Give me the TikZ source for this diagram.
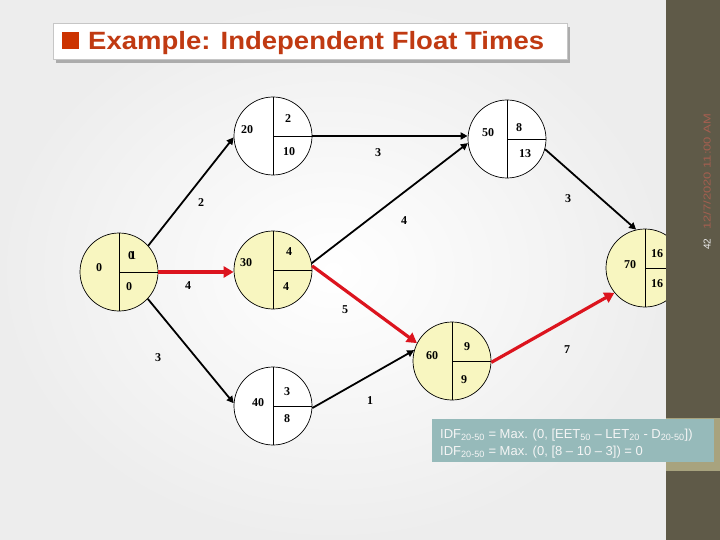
\documentclass[tikz,border=0pt]{standalone}
\usepackage{fontspec}
\setmainfont{Liberation Serif}
\newfontfamily\arialf{Liberation Sans}
\usetikzlibrary{arrows.meta}
\definecolor{evyel}{RGB}{248,246,192}
\definecolor{evred}{RGB}{220,20,30}
\definecolor{sideb}{RGB}{95,90,72}
\definecolor{khakib}{RGB}{168,163,126}
\definecolor{tealbox}{RGB}{150,186,186}
\definecolor{titlec}{RGB}{192,58,18}
\definecolor{bulletc}{RGB}{204,51,0}
\definecolor{datec}{RGB}{165,95,80}
\begin{document}
\begin{tikzpicture}[x=1pt,y=-1pt,
  ev/.style={circle, draw, line width=0.7pt, minimum size=78pt, inner sep=0pt},
  num/.style={font=\bfseries\fontsize{12}{12}\selectfont, inner sep=0pt},
  arr/.style={line width=1.8pt, -{Triangle[length=7pt,width=7pt]}},
  crit/.style={line width=3.2pt, color=evred, -{Triangle[length=10pt,width=11pt]}},
  div/.style={line width=0.8pt}
]
\useasboundingbox (0,0) rectangle (720,540);
% background
\shade[inner color=white, outer color=gray!14] (0,0) rectangle (666,540);

% title box
\fill[gray!65] (56,27) rectangle (570,63);
\filldraw[fill=white, draw=gray!45, line width=1pt] (53,24) rectangle (567,60);
\fill[bulletc] (62,32) rectangle (79,49);
\node[anchor=base west, inner sep=0pt, text=titlec, font=\arialf\bfseries\fontsize{25}{25}\selectfont] (title) at (88,50) {\scalebox{1.1}[1]{Example: Independent Float Times}};

% event nodes
\node[ev, fill=evyel] (n10) at (119,272) {};
\node[ev, fill=white] (n20) at (273,136) {};
\node[ev, fill=evyel] (n30) at (273,270) {};
\node[ev, fill=white] (n40) at (273,406) {};
\node[ev, fill=white] (n50) at (507,139) {};
\node[ev, fill=evyel] (n60) at (452,361) {};
\node[ev, fill=evyel] (n70) at (645,268) {};

\foreach \n in {n10,n20,n30,n40,n50,n60,n70}{
  \draw[div] (\n.north) -- (\n.south);
  \draw[div] (\n.center) -- (\n.east);
}

% node texts
\node[num] (t10a) at (99,268) {0};
\node[num] (t10b) at (131,256) {0};
\node[num] (t10c) at (133,256) {1};
\node[num] (t10d) at (129,287) {0};

\node[num] (t20a) at (247,130) {20};
\node[num] (t20b) at (288,119) {2};
\node[num] (t20c) at (289,152) {10};

\node[num] (t30a) at (246,263) {30};
\node[num] (t30b) at (289,252) {4};
\node[num] (t30c) at (286,287) {4};

\node[num] (t40a) at (258,403) {40};
\node[num] (t40b) at (287,392) {3};
\node[num] (t40c) at (287,419) {8};

\node[num] (t50a) at (488,133) {50};
\node[num] (t50b) at (519,128) {8};
\node[num] (t50c) at (525,154) {13};

\node[num] (t60a) at (432,356) {60};
\node[num] (t60b) at (467,347) {9};
\node[num] (t60c) at (464,380) {9};

\node[num] (t70a) at (630,265) {70};
\node[num] (t70b) at (657,254) {16};
\node[num] (t70c) at (657,284) {16};

% connectors
\draw[arr] (n10.42) -- (n20.182);
\draw[arr] (n10.-43) -- (n40.176);
\draw[crit] (n10.east) -- (n10.east -| n30.west);
\draw[arr] (n20.east) -- (n20.east -| n50.west);
\draw[arr] (n30.10) -- (n50.186);
\draw[crit] (n30.6) -- (n60.153);
\draw[arr] (n40.-3) -- (n60.164);
\draw[arr] (n50.-15) -- (n70.103);
\draw[crit] (n60.-2) -- (n70.219);

% connector labels
\node[num] (l1) at (201,203) {2};
\node[num] (l2) at (158,358) {3};
\node[num] (l3) at (188,286) {4};
\node[num] (l4) at (378,153) {3};
\node[num] (l5) at (404,221) {4};
\node[num] (l6) at (345,310) {5};
\node[num] (l7) at (568,199) {3};
\node[num] (l8) at (567,350) {7};
\node[num] (l9) at (370,401) {1};

% side bar
\fill[sideb] (666,0) rectangle (720,540);
\fill[khakib] (666,418) rectangle (720,471);
\node[rotate=90, anchor=west, inner sep=0pt, text=datec, font=\arialf\fontsize{10}{10}\selectfont] (date) at (707,230) {\scalebox{1.3}[1]{12/7/2020 11:00 AM}};
\node[rotate=90, anchor=west, inner sep=0pt, text=gray!15, font=\arialf\fontsize{10}{10}\selectfont] (pg) at (707,250) {42};

% formula box
\fill[tealbox] (432,419) rectangle (714,462);
\node[anchor=base west, inner sep=0pt, text=white!92!gray, font=\arialf\fontsize{13}{13}\selectfont] (f1) at (440,438) {IDF\textsubscript{20-50} = Max. (0, [EET\textsubscript{50} – LET\textsubscript{20} - D\textsubscript{20-50}])};
\node[anchor=base west, inner sep=0pt, text=white!92!gray, font=\arialf\fontsize{13}{13}\selectfont] (f2) at (440,455) {IDF\textsubscript{20-50} = Max. (0, [8 – 10 – 3]) = 0};
\end{tikzpicture}
\end{document}
